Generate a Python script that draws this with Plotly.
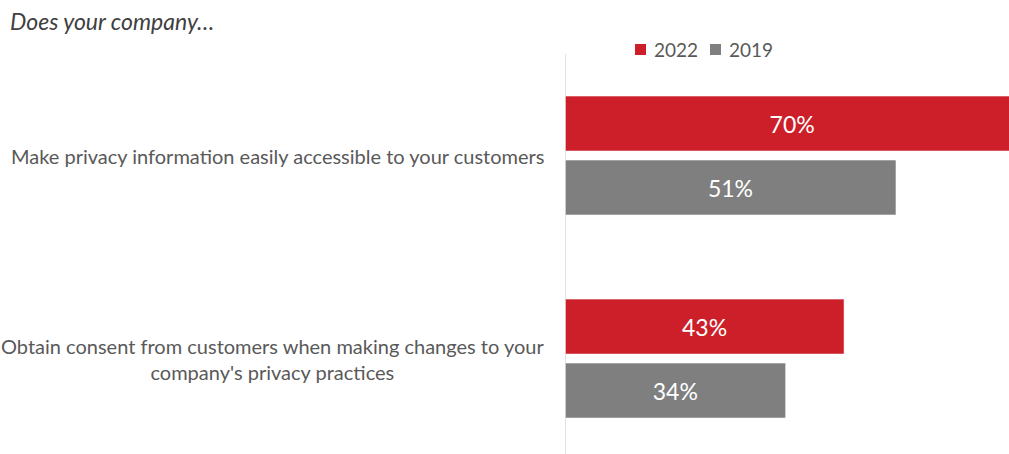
import plotly.graph_objects as go

# Survey items (bottom to top on the y axis) and share of companies, in %
categories = [
    "Obtain consent from customers when making changes to your<br>company's privacy practices",
    "Make privacy information easily accessible to your customers",
]
values_2022 = [43, 70]
values_2019 = [34, 51]
series_names = ["2022", "2019"]

RED = "#CC1F29"
GRAY = "#7F7F7F"
TEXT = "#595959"
FONT = "Lato, 'Open Sans', sans-serif"

W, H = 1009, 454
L, T = 565, 54           # plot-area origin in pixels
PW, PH = W - L, H - T    # plot-area size


def px_x(px):
    return (px - L) / PW


def px_y(py):
    return (H - py) / PH


ypos = list(range(len(categories)))

fig = go.Figure()
# 2019 drawn first so it sits below 2022 inside each group
fig.add_trace(go.Bar(
    y=ypos, x=values_2019, name=series_names[1], orientation="h",
    marker=dict(color=GRAY, line=dict(color="rgba(255,255,255,0.55)", width=1)),
    text=[f"{v}%" for v in values_2019], textposition="inside",
    insidetextanchor="middle",
    textfont=dict(color="white", size=23, family=FONT),
))
fig.add_trace(go.Bar(
    y=ypos, x=values_2022, name=series_names[0], orientation="h",
    marker=dict(color=RED, line=dict(color="rgba(255,255,255,0.55)", width=1)),
    text=[f"{v}%" for v in values_2022], textposition="inside",
    insidetextanchor="middle",
    textfont=dict(color="white", size=23, family=FONT),
))

# category labels, centred multi-line text to the left of the axis
for yi, label in zip(ypos, categories):
    fig.add_annotation(
        x=0, xref="paper", y=yi, yref="y", text=label, showarrow=False,
        xanchor="right", xshift=-19, align="center",
        font=dict(size=20, color=TEXT, family=FONT),
    )

# compact legend: coloured square followed by the series name
shapes = []
legend_items = [(series_names[0], RED, 635), (series_names[1], GRAY, 710)]
for name, color, x0 in legend_items:
    shapes.append(dict(
        type="rect", xref="paper", yref="paper",
        x0=px_x(x0), x1=px_x(x0 + 11), y0=px_y(55), y1=px_y(44),
        fillcolor=color, line=dict(width=0),
    ))
    fig.add_annotation(
        x=px_x(x0 + 17), xref="paper", y=px_y(49.5), yref="paper",
        text=name, showarrow=False, xanchor="left", yanchor="middle",
        font=dict(size=19, color=TEXT, family=FONT),
    )

# vertical axis line at zero
shapes.append(dict(
    type="line", xref="x", yref="paper", x0=0, x1=0, y0=0, y1=1,
    line=dict(color="#D9D9D9", width=1.5), layer="above",
))

fig.update_layout(
    width=W, height=H,
    margin=dict(l=L, r=0, t=T, b=0),
    paper_bgcolor="white", plot_bgcolor="white",
    barmode="group", bargap=0.37, bargroupgap=0.14,
    showlegend=False,
    font=dict(family=FONT, color=TEXT),
    title=dict(
        text="<i>Does your company…</i>", x=10 / W, xanchor="left",
        y=1 - 22 / H, yanchor="middle", xref="container", yref="container",
        font=dict(size=23, color="#404040", family=FONT),
    ),
    xaxis=dict(range=[0, PW / 6.49], visible=False),
    yaxis=dict(
        range=[-0.47, 1.5], showticklabels=False, showgrid=False,
        zeroline=False, showline=False, ticks="",
    ),
    shapes=shapes,
)

fig.write_html("out.html")
